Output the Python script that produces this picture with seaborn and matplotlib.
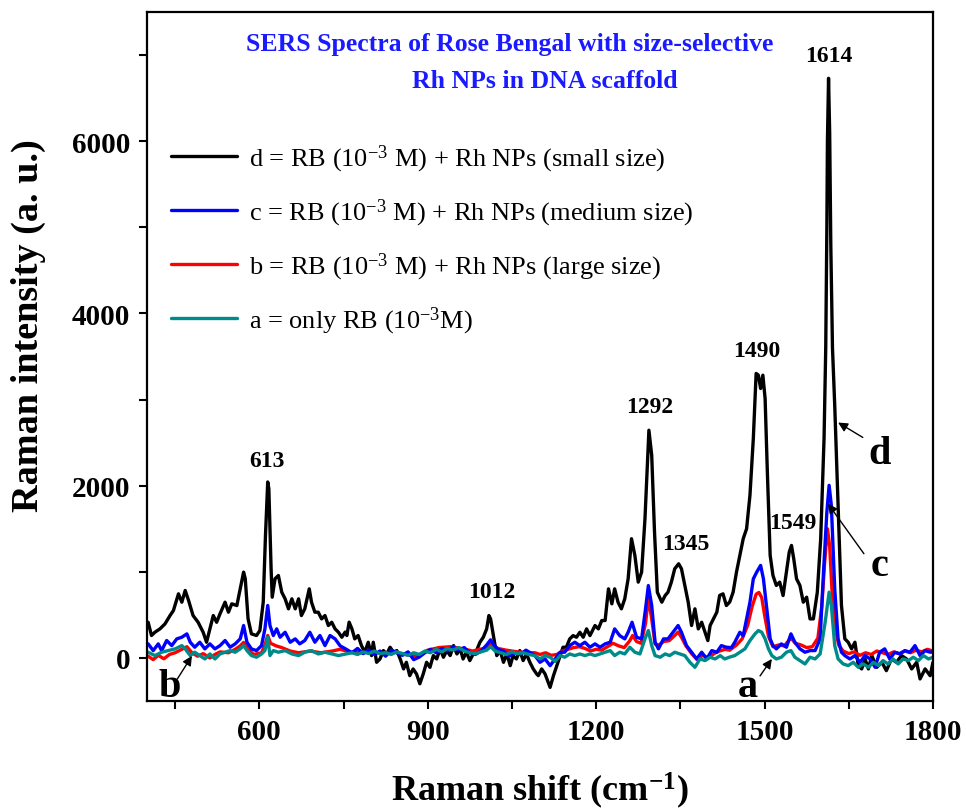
import matplotlib
matplotlib.use("Agg")
import matplotlib.pyplot as plt
import seaborn as sns
import pandas as pd
from matplotlib.lines import Line2D

# ---------------- data ----------------
d_points = [(402,414),(408,260),(414,298),(423,337),(432,395),(441,492),(447,550),(456,744),(462,647),(468,783),
 (474,667),(482,492),(491,414),(500,298),(506,182),(512,337),(518,492),(524,414),(530,512),(539,647),(545,531),
 (551,628),(560,608),(566,802),(572,996),(575,919),(580,453),(586,279),(595,260),(601,318),(607,647),(611,1423),
 (615,2043),(617,1965),(621,1035),(623,705),(628,919),(634,957),(640,763),(646,686),(652,570),(658,686),(664,570),
 (670,686),(675,492),(681,570),(689,802),(693,647),(699,531),(705,531),(711,453),(717,492),(723,376),(729,414),
 (735,337),(741,298),(747,240),(753,300),(756,260),(760,415),(765,337),(770,221),(776,260),(782,143),(788,66),
 (794,182),(800,27),(803,182),(809,-51),(815,-12),(821,85),(827,46),(833,124),(839,66),(845,85),(851,-12),
 (857,-128),(862,-51),(868,-206),(874,-128),(880,-186),(886,-300),(892,-186),(898,-51),(904,-109),(910,27),
 (916,-12),(922,105),(928,8),(934,85),(940,27),(946,143),(952,46),(958,105),(963,-12),(969,66),(975,-31),
 (981,46),(987,85),(993,182),(999,240),(1005,337),(1009,492),(1012,453),(1017,260),(1023,27),(1029,85),
 (1035,-51),(1041,46),(1047,-90),(1052,27),(1058,-12),(1064,85),(1070,-31),(1076,46),(1082,-51),(1088,-128),
 (1094,-186),(1097,-206),(1103,-128),(1109,-186),(1118,-342),(1124,-206),(1130,-90),(1136,27),(1141,124),
 (1147,124),(1153,221),(1159,259),(1165,240),(1171,298),(1177,240),(1183,337),(1189,259),(1198,376),(1204,337),
 (1210,434),(1216,434),(1222,802),(1228,628),(1233,802),(1239,647),(1245,570),(1251,686),(1257,918),(1263,1384),
 (1269,1190),(1275,880),(1281,996),(1287,1616),(1294,2644),(1299,2353),(1304,1461),(1309,763),(1317,647),
 (1323,725),(1328,763),(1334,880),(1340,1035),(1347,1093),(1352,1035),(1358,841),(1364,647),(1370,376),
 (1376,570),(1382,337),(1388,414),(1394,298),(1399,201),(1403,376),(1409,453),(1415,531),(1420,725),(1426,744),
 (1432,608),(1438,650),(1444,763),(1450,996),(1456,1190),(1462,1384),(1468,1500),(1474,1888),(1480,2547),
 (1485,3303),(1489,3283),(1493,3128),(1497,3283),(1501,3012),(1505,2159),(1510,1190),(1515,957),(1521,841),
 (1527,880),(1533,724),(1539,996),(1544,1229),(1548,1306),(1552,1151),(1557,918),(1563,841),(1569,647),
 (1575,705),(1581,453),(1587,453),(1594,763),(1600,1384),(1606,2547),(1609,3600),(1611,5000),(1612,6000),
 (1614,6730),(1616,6100),(1618,4800),(1621,3600),(1625,2935),(1631,1771),(1637,608),(1643,221),(1649,182),
 (1655,105),(1661,182),(1667,-89),(1673,-128),(1679,-12),(1685,-128),(1691,27),(1700,-109),(1709,-51),
 (1717,-148),(1726,-12),(1735,-51),(1744,27),(1753,-12),(1762,-128),(1771,-51),(1777,-244),(1786,-128),
 (1795,-206),(1800,-51)]

c_points = [(402,163),(411,85),(420,163),(426,85),(435,202),(444,143),(453,221),(462,240),(471,279),(477,182),
 (485,124),(494,182),(503,105),(512,163),(521,105),(530,143),(539,202),(548,124),(557,163),(566,221),(572,376),
 (578,182),(586,105),(595,85),(604,143),(610,337),(615,609),(619,376),(625,260),(631,337),(637,240),(646,298),
 (655,182),(664,221),(672,163),(681,202),(690,298),(699,182),(708,260),(717,143),(726,260),(735,221),(744,140),
 (755,100),(765,60),(775,110),(785,50),(795,90),(805,40),(815,80),(825,20),(835,90),(845,60),(855,30),(865,70),
 (875,-20),(885,10),(895,60),(905,100),(915,60),(925,110),(935,80),(945,130),(955,90),(965,120),(975,60),
 (985,40),(995,80),(1005,150),(1012,210),(1018,150),(1025,100),(1035,80),(1045,20),(1055,60),(1065,40),
 (1075,90),(1085,50),(1091,27),(1100,-51),(1109,-12),(1118,-90),(1127,-12),(1136,66),(1144,66),(1153,143),
 (1162,182),(1171,143),(1180,182),(1189,124),(1198,163),(1207,124),(1216,163),(1225,182),(1233,337),(1242,259),
 (1251,221),(1257,298),(1264,414),(1272,240),(1281,221),(1288,570),(1293,840),(1299,608),(1305,182),(1311,105),
 (1320,221),(1328,221),(1337,298),(1346,376),(1352,298),(1361,143),(1370,66),(1379,-12),(1388,66),(1397,-12),
 (1406,85),(1415,66),(1423,143),(1432,124),(1441,120),(1447,182),(1456,298),(1462,259),(1468,453),(1474,647),
 (1480,918),(1486,996),(1493,1074),(1498,918),(1504,569),(1510,221),(1515,143),(1521,105),(1530,163),(1539,124),
 (1547,279),(1554,182),(1563,105),(1572,66),(1581,85),(1590,85),(1599,221),(1605,996),(1611,1694),(1615,2004),
 (1619,1771),(1625,802),(1631,221),(1637,66),(1643,27),(1652,-12),(1661,27),(1670,-51),(1679,27),(1688,-12),
 (1697,-109),(1705,66),(1714,105),(1723,-12),(1732,66),(1741,46),(1750,85),(1759,66),(1768,143),(1777,27),
 (1786,85),(1795,66),(1800,70)]

b_points = [(402,20),(411,-20),(420,30),(430,-10),(440,40),(450,60),(462,100),(471,130),(480,60),(490,20),
 (500,50),(512,0),(521,40),(530,70),(545,60),(557,100),(566,140),(572,180),(580,100),(590,40),(604,60),(610,150),
 (615,260),(620,170),(630,140),(640,120),(655,80),(670,60),(690,80),(710,60),(730,80),(744,100),(760,70),
 (780,60),(800,70),(820,50),(840,70),(860,40),(880,20),(900,90),(920,120),(940,130),(960,110),(980,80),
 (1000,110),(1012,160),(1025,110),(1040,90),(1060,70),(1080,60),(1091,60),(1100,40),(1110,60),(1120,30),
 (1130,40),(1140,80),(1150,100),(1160,120),(1170,130),(1180,110),(1190,80),(1200,100),(1210,90),(1220,130),
 (1230,170),(1240,140),(1250,120),(1260,200),(1265,260),(1272,190),(1280,170),(1288,400),(1293,700),(1299,450),
 (1305,160),(1312,150),(1320,190),(1330,200),(1340,260),(1346,300),(1352,240),(1360,140),(1370,50),(1380,-20),
 (1390,30),(1400,0),(1410,50),(1420,80),(1430,100),(1438,90),(1450,150),(1460,220),(1470,380),(1478,600),
 (1485,740),(1490,760),(1495,700),(1500,500),(1507,250),(1515,130),(1525,150),(1535,140),(1547,230),(1555,170),
 (1565,150),(1575,120),(1585,130),(1595,230),(1602,600),(1607,1100),(1612,1500),(1616,1300),(1620,800),
 (1626,350),(1632,150),(1640,80),(1650,50),(1660,70),(1670,30),(1680,60),(1690,40),(1700,80),(1710,60),
 (1720,40),(1730,70),(1740,50),(1750,80),(1760,60),(1770,90),(1780,70),(1790,100),(1800,80)]

a_points = [(402,66),(414,27),(426,66),(438,85),(450,105),(462,143),(468,105),(477,27),(485,66),(494,27),
 (503,-12),(512,46),(521,-12),(530,46),(539,66),(548,85),(557,66),(566,105),(572,143),(578,85),(586,27),(595,8),
 (604,46),(610,85),(615,240),(619,27),(625,85),(634,66),(646,85),(658,46),(670,27),(681,66),(693,85),(705,46),
 (717,66),(729,46),(741,27),(750,40),(765,60),(775,40),(785,70),(795,50),(805,80),(815,50),(825,60),(835,40),
 (845,70),(855,50),(865,30),(875,60),(885,40),(895,80),(905,60),(915,100),(925,70),(935,110),(945,90),(955,120),
 (965,80),(975,60),(985,50),(995,70),(1005,90),(1012,130),(1020,80),(1030,60),(1040,40),(1050,70),(1060,50),
 (1070,60),(1080,40),(1091,27),(1100,-12),(1109,27),(1118,8),(1127,-40),(1136,27),(1144,8),(1153,46),(1162,27),
 (1171,46),(1180,27),(1189,46),(1198,27),(1207,46),(1216,66),(1225,85),(1233,27),(1242,66),(1251,46),(1260,124),
 (1269,66),(1278,46),(1287,221),(1293,318),(1299,143),(1305,27),(1314,8),(1323,46),(1331,27),(1340,66),(1349,46),
 (1358,27),(1367,-51),(1376,-109),(1385,-12),(1394,-31),(1403,8),(1412,-12),(1421,27),(1429,-12),(1438,10),
 (1447,27),(1456,66),(1465,105),(1474,201),(1483,279),(1489,318),(1495,298),(1501,221),(1507,105),(1513,27),
 (1521,-12),(1530,8),(1539,66),(1547,85),(1554,8),(1563,-31),(1572,-70),(1581,8),(1590,-12),(1599,46),
 (1608,415),(1615,764),(1619,609),(1625,143),(1631,-12),(1640,-70),(1649,-89),(1658,-51),(1667,-109),(1676,-70),
 (1685,-109),(1694,-51),(1703,-89),(1711,-31),(1720,-70),(1729,-12),(1738,-70),(1747,-12),(1756,-31),(1765,8),
 (1774,-31),(1783,27),(1792,-12),(1800,8)]

shift_d, int_d = [p[0] for p in d_points], [p[1] for p in d_points]
shift_c, int_c = [p[0] for p in c_points], [p[1] for p in c_points]
shift_b, int_b = [p[0] for p in b_points], [p[1] for p in b_points]
shift_a, int_a = [p[0] for p in a_points], [p[1] for p in a_points]

legend_labels = ["d = RB (10$^{-3}$ M) + Rh NPs (small size)",
                 "c = RB (10$^{-3}$ M) + Rh NPs (medium size)",
                 "b = RB (10$^{-3}$ M) + Rh NPs (large size)",
                 "a = only RB (10$^{-3}$M)"]
series_colors = ["#000000", "#0000FF", "#FF0000", "#008B8B"]

peak_text = ["613", "1012", "1292", "1345", "1490", "1549", "1614"]
peak_label_x = [613, 1014, 1296, 1360, 1486, 1550, 1615]
peak_label_y = [2290, 770, 2920, 1330, 3570, 1570, 6990]

x_ticks = [600, 900, 1200, 1500, 1800]
y_ticks = [0, 2000, 4000, 6000]

# ---------------- style ----------------
sns.set_theme(style="ticks")
plt.rcParams["font.family"] = ["Liberation Serif", "DejaVu Serif"]
plt.rcParams["mathtext.fontset"] = "custom"
plt.rcParams["mathtext.rm"] = "Liberation Serif"
plt.rcParams["mathtext.it"] = "Liberation Serif:italic"
plt.rcParams["mathtext.bf"] = "Liberation Serif:bold"
for k in ["text.color", "axes.labelcolor", "xtick.color", "ytick.color", "axes.edgecolor"]:
    plt.rcParams[k] = "black"

fig = plt.figure(figsize=(9.66, 8.12), dpi=100)
ax = fig.add_axes([0.1522, 0.1355, 0.8136, 0.8485])

lw = 2.4
sns.lineplot(x=shift_d, y=int_d, ax=ax, color=series_colors[0], lw=lw, sort=False, errorbar=None)
sns.lineplot(x=shift_b, y=int_b, ax=ax, color=series_colors[2], lw=lw, sort=False, errorbar=None)
sns.lineplot(x=shift_c, y=int_c, ax=ax, color=series_colors[1], lw=lw, sort=False, errorbar=None)
sns.lineplot(x=shift_a, y=int_a, ax=ax, color=series_colors[3], lw=lw, sort=False, errorbar=None)

ax.set_xlim(400, 1800)
ax.set_ylim(-500, 7500)
ax.set_xticks(x_ticks)
ax.set_xticks([450, 750, 1050, 1350, 1650], minor=True)
ax.set_yticks(y_ticks)
ax.set_yticks([1000, 3000, 5000, 7000], minor=True)
ax.tick_params(axis="both", which="both", direction="out", length=6, width=1.5,
               top=False, right=False, colors="black")
ax.tick_params(axis="both", which="major", labelsize=21, pad=6)
for lab in ax.get_xticklabels() + ax.get_yticklabels():
    lab.set_fontweight("bold")
for sp in ax.spines.values():
    sp.set_linewidth(1.6)
    sp.set_color("black")

ax.set_xlabel("Raman shift (cm$^{\\mathbf{-1}}$)", fontsize=26, fontweight="bold")
ax.set_ylabel("Raman intensity (a. u.)", fontsize=27.5, fontweight="bold")
ax.xaxis.set_label_coords(0.5, -0.099)
ax.yaxis.set_label_coords(-0.128, 0.546)

# title text in blue
ax.text(0.462, 0.954, "SERS Spectra of Rose Bengal with size-selective", transform=ax.transAxes,
        ha="center", va="center", color="#1a1aff", fontsize=18.5, fontweight="bold")
ax.text(0.506, 0.900, "Rh NPs in DNA scaffold", transform=ax.transAxes,
        ha="center", va="center", color="#1a1aff", fontsize=18.5, fontweight="bold")

# legend
handles = [Line2D([0], [0], color=c, lw=lw) for c in series_colors]
ax.legend(handles, legend_labels, loc="upper left", bbox_to_anchor=(0.017, 0.826),
          frameon=False, fontsize=19, handlelength=2.5, handletextpad=0.45,
          labelspacing=0.86, borderaxespad=0)

# peak labels
for px, py, t in zip(peak_label_x, peak_label_y, peak_text):
    ax.text(px, py, t, ha="center", va="center", fontsize=17, fontweight="bold")

# series letters with arrows
ax.text(1705, 2372, "d", ha="center", va="center", fontsize=29, fontweight="bold")
ax.text(1705, 1070, "c", ha="center", va="center", fontsize=29, fontweight="bold")
ax.text(1470, -337, "a", ha="center", va="center", fontsize=29, fontweight="bold")
ax.text(441, -337, "b", ha="center", va="center", fontsize=29, fontweight="bold")
arrow = dict(arrowstyle="-|>", color="black", lw=1.0, mutation_scale=14, shrinkA=0, shrinkB=0)
ax.annotate("", xy=(1631, 2733), xytext=(1675, 2560), arrowprops=arrow)
ax.annotate("", xy=(1613, 1791), xytext=(1677, 1210), arrowprops=arrow)
ax.annotate("", xy=(1513, -12), xytext=(1492, -209), arrowprops=arrow)
ax.annotate("", xy=(480, 23), xytext=(454, -244), arrowprops=arrow)

fig.savefig("out.png", dpi=100)
